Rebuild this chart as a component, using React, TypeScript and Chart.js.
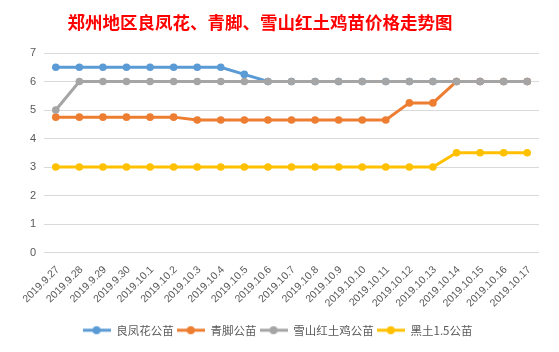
import React, { useEffect, useRef } from "react";
import { Chart, registerables } from "chart.js";

Chart.register(...registerables);

const TITLE = "郑州地区良凤花、青脚、雪山红土鸡苗价格走势图";

const categories = [
  "2019.9.27", "2019.9.28", "2019.9.29", "2019.9.30",
  "2019.10.1", "2019.10.2", "2019.10.3", "2019.10.4", "2019.10.5",
  "2019.10.6", "2019.10.7", "2019.10.8", "2019.10.9", "2019.10.10",
  "2019.10.11", "2019.10.12", "2019.10.13", "2019.10.14", "2019.10.15",
  "2019.10.16", "2019.10.17",
];

const seriesNames = ["良凤花公苗", "青脚公苗", "雪山红土鸡公苗", "黑土1.5公苗"];

const lianghuafeng = [6.5, 6.5, 6.5, 6.5, 6.5, 6.5, 6.5, 6.5, 6.25, 6, 6, 6, 6, 6, 6, 6, 6, 6, 6, 6, 6];
const qingjiao = [4.75, 4.75, 4.75, 4.75, 4.75, 4.75, 4.65, 4.65, 4.65, 4.65, 4.65, 4.65, 4.65, 4.65, 4.65, 5.25, 5.25, 6, 6, 6, 6];
const xueshan = [5, 6, 6, 6, 6, 6, 6, 6, 6, 6, 6, 6, 6, 6, 6, 6, 6, 6, 6, 6, 6];
const heitu = [3, 3, 3, 3, 3, 3, 3, 3, 3, 3, 3, 3, 3, 3, 3, 3, 3, 3.5, 3.5, 3.5, 3.5];

const colors = ["#5B9BD5", "#ED7D31", "#A5A5A5", "#FFC000"];

const yMin = 0;
const yMax = 7;
const yStep = 1;

function legendMarker(color: string) {
  const c = document.createElement("canvas");
  c.width = 28;
  c.height = 10;
  const ctx = c.getContext("2d")!;
  ctx.strokeStyle = color;
  ctx.lineWidth = 3;
  ctx.beginPath();
  ctx.moveTo(0, 5);
  ctx.lineTo(28, 5);
  ctx.stroke();
  ctx.fillStyle = color;
  ctx.beginPath();
  ctx.arc(14, 5, 4, 0, Math.PI * 2);
  ctx.fill();
  return c;
}

const titlePlugin = {
  id: "excelTitle",
  afterDraw(chart: any) {
    const ctx = chart.ctx;
    ctx.save();
    ctx.fillStyle = "#FF0000";
    ctx.font = "bold 17.5px 'Noto Sans CJK SC'";
    ctx.textAlign = "center";
    ctx.textBaseline = "middle";
    ctx.fillText(TITLE, 257, 19.5);
    ctx.restore();
  },
};

export default function App() {
  const ref = useRef<HTMLCanvasElement | null>(null);

  useEffect(() => {
    if (!ref.current) return;
    const values = [lianghuafeng, qingjiao, xueshan, heitu];
    const markers = colors.map(legendMarker);
    const chart = new Chart(ref.current, {
      type: "line",
      plugins: [titlePlugin],
      data: {
        labels: categories,
        datasets: values.map((v, i) => ({
          label: seriesNames[i],
          data: v,
          borderColor: colors[i],
          backgroundColor: colors[i],
          pointBackgroundColor: colors[i],
          pointBorderColor: colors[i],
          borderWidth: 3,
          pointRadius: 3.8,
          pointBorderWidth: 0,
          tension: 0,
          order: 4 - i,
        })),
      },
      options: {
        animation: false,
        responsive: false,
        maintainAspectRatio: false,
        layout: { padding: { left: 13, right: 15, top: 50, bottom: 1 } },
        plugins: {
          title: { display: false },
          legend: {
            display: true,
            position: "bottom",
            labels: {
              color: "#595959",
              font: { family: "'Noto Sans CJK SC', 'Liberation Sans'", size: 11.5 },
              usePointStyle: true,
              pointStyleWidth: 28,
              padding: 3,
              generateLabels: (ch: any) =>
                ch.data.datasets.map((ds: any, i: number) => ({
                  text: ds.label,
                  fillStyle: colors[i],
                  strokeStyle: colors[i],
                  lineWidth: 0,
                  pointStyle: markers[i],
                  hidden: false,
                  datasetIndex: i,
                  fontColor: "#595959",
                })),
            },
          },
          tooltip: { enabled: false },
        },
        scales: {
          x: {
            offset: true,
            grid: { display: false, drawTicks: false },
            border: { display: false },
            ticks: {
              color: "#595959",
              font: { family: "'Liberation Sans'", size: 10.5 },
              minRotation: 45,
              maxRotation: 45,
              autoSkip: false,
              padding: 11,
              labelOffset: 2,
            },
            afterFit: (s: any) => {
              s.height = 69;
            },
          },
          y: {
            min: yMin,
            max: yMax,
            grid: { color: "#D9D9D9", lineWidth: 1, drawTicks: false },
            border: { display: false },
            ticks: {
              stepSize: yStep,
              color: "#595959",
              font: { family: "'Liberation Sans'", size: 11 },
              padding: 8,
            },
            afterFit: (s: any) => {
              s.width = 28;
            },
          },
        },
      },
    });
    return () => chart.destroy();
  }, []);

  const bg: React.CSSProperties = {
    position: "relative",
    width: 559,
    height: 352,
    backgroundColor: "#ffffff",
    backgroundImage:
      "linear-gradient(to right, #D4D4D4 1px, transparent 1px), linear-gradient(to bottom, #D4D4D4 1px, transparent 1px)",
    backgroundSize: "72px 19px",
    backgroundPosition: "55px 13px",
    overflow: "hidden",
  };

  return (
    <div style={{ margin: -8 }}>
      <div style={bg}>
        <div
          style={{
            position: "absolute",
            left: 2,
            top: 2,
            width: 554,
            height: 347,
            boxSizing: "border-box",
            border: "1px solid #D9D9D9",
            background: "#ffffff",
          }}
        >
          <canvas ref={ref} width={551} height={344} style={{ position: "absolute", left: 0, top: 0, width: 551, height: 344 }} />
        </div>
      </div>
    </div>
  );
}
